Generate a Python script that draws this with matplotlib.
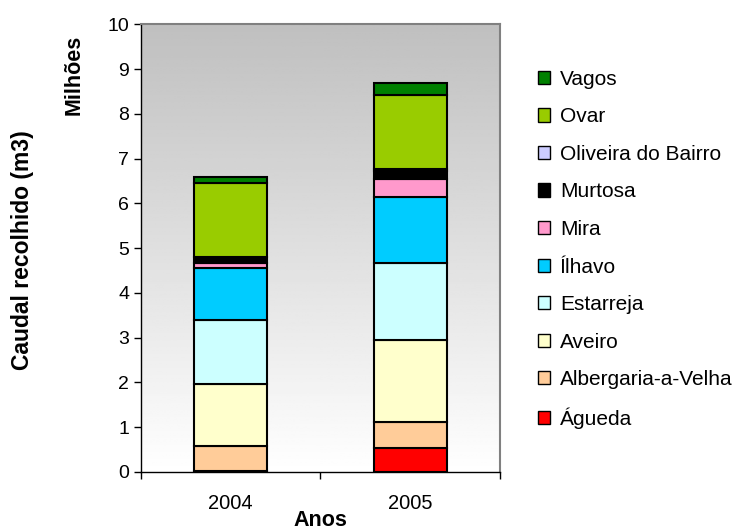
import numpy as np
import matplotlib
matplotlib.use("Agg")
import matplotlib.pyplot as plt
from matplotlib.patches import Patch

plt.rcParams['font.family'] = ['Liberation Sans', 'DejaVu Sans']

anos = ["2004", "2005"]
concelhos = ["Águeda", "Albergaria-a-Velha", "Aveiro", "Estarreja", "Ílhavo",
             "Mira", "Murtosa", "Oliveira do Bairro", "Ovar", "Vagos"]
# milhões de m3
agueda = [0.03, 0.53]
albergaria = [0.55, 0.58]
aveiro = [1.38, 1.83]
estarreja = [1.43, 1.73]
ilhavo = [1.16, 1.48]
mira = [0.11, 0.40]
murtosa = [0.15, 0.17]
oliveira = [0.00, 0.05]
ovar = [1.65, 1.65]
vagos = [0.13, 0.28]
cores = ["#ff0000", "#ffcc99", "#ffffcc", "#ccffff", "#00ccff",
         "#ff99cc", "#000000", "#ccccff", "#99cc00", "#008000"]

series = [agueda, albergaria, aveiro, estarreja, ilhavo,
          mira, murtosa, oliveira, ovar, vagos]

fig = plt.figure(figsize=(7.44, 5.29), dpi=100)
ax = fig.add_axes([0.1895, 0.1078, 0.4825, 0.8459])

# fundo em degradê (cinzento em cima, branco em baixo)
grad = np.linspace(0.75, 1.0, 256).reshape(-1, 1)
ax.imshow(grad, cmap="gray", vmin=0, vmax=1, aspect="auto", origin="upper",
          extent=[0, 1, 0, 1], transform=ax.transAxes, zorder=0)

x = np.arange(len(anos))
base = np.zeros(len(anos))
for vals, cor, nome in zip(series, cores, concelhos):
    ax.bar(x, vals, width=0.405, bottom=base, color=cor, edgecolor="black",
           linewidth=1.5, label=nome, zorder=2)
    base += np.array(vals)

ax.set_xlim(-0.5, 1.5)
ax.set_ylim(0, 10)
ax.set_yticks(range(0, 11))
ax.tick_params(axis="y", labelsize=14, length=5, width=1)
ax.set_xticks(x)
ax.set_xticklabels(anos, fontsize=14.5)
ax.tick_params(axis="x", which="major", length=0, pad=16)
ax.set_xticks([-0.5, 0.5, 1.5], minor=True)
ax.tick_params(axis="x", which="minor", length=5, width=1)

for s in ["top", "right"]:
    ax.spines[s].set_color("#808080")
    ax.spines[s].set_linewidth(1.5)
for s in ["left", "bottom"]:
    ax.spines[s].set_color("black")
    ax.spines[s].set_linewidth(1)

fig.text(0.43, 0.017, "Anos", fontsize=15.5, fontweight="bold",
         ha="center", va="center")
fig.text(0.03, 0.527, "Caudal recolhido (m3)", rotation=90, fontsize=16.5,
         fontweight="bold", ha="center", va="center")
fig.text(0.0995, 0.858, "Milhões", rotation=90, fontsize=15.5,
         fontweight="bold", ha="center", va="center")

handles = [Patch(facecolor=c, edgecolor="black", label=n)
           for c, n in zip(cores, concelhos)][::-1]
fig.legend(handles=handles, loc="upper left", bbox_to_anchor=(0.723, 0.868),
           frameon=False, fontsize=15, handlelength=0.6, handleheight=0.6,
           handletextpad=0.45, labelspacing=0.89, borderpad=0, borderaxespad=0)

fig.savefig("out.png", dpi=100)
